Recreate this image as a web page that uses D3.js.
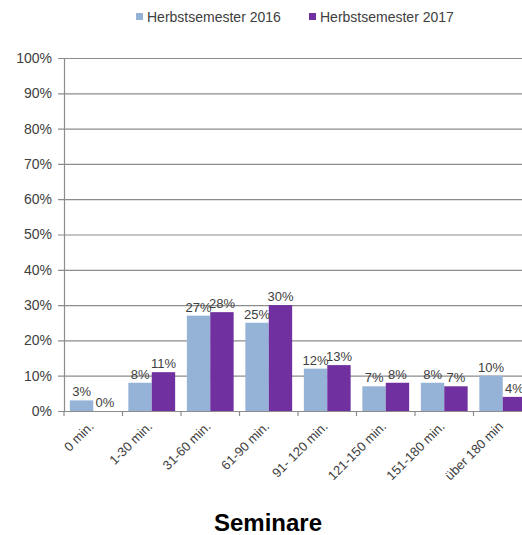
<!DOCTYPE html>
<html>
<head>
<meta charset="utf-8">
<script src="https://cdn.jsdelivr.net/npm/d3@7"></script>
<style>
  html, body { margin: 0; padding: 0; background: #fff; }
  svg { display: block; font-family: "Liberation Sans", Arial, sans-serif; }
</style>
</head>
<body>
<svg id="chart" width="522" height="535"></svg>
<script>
// Dauer pro Seminar, Anteil der Antworten in Prozent
const categories = ["0 min.", "1-30 min.", "31-60 min.", "61-90 min.", "91- 120 min.", "121-150 min.", "151-180 min.", "über 180 min"];
const seriesNames = ["Herbstsemester 2016", "Herbstsemester 2017"];
const values2016 = [3, 8, 27, 25, 12, 7, 8, 10];
const values2017 = [0, 11, 28, 30, 13, 8, 7, 4];
const yTicks = [0, 10, 20, 30, 40, 50, 60, 70, 80, 90, 100];
const colors = ["#95b3d7", "#7030a0"];
const title = "Seminare";

const svg = d3.select("#chart");
const plotLeft = 64, plotRight = 532, plotTop = 58, plotBottom = 411;
const textColor = "#404040";

const x = d3.scaleBand().domain(categories).range([plotLeft, plotRight]).paddingInner(0.2).paddingOuter(0.1);
const xs = d3.scaleBand().domain(seriesNames).range([0, x.bandwidth()]);
const y = d3.scaleLinear().domain([0, 100]).range([plotBottom, plotTop]);
const edge = d3.scaleLinear().domain([0, categories.length]).range([plotLeft, plotRight]);

// Gitterlinien
svg.append("g").selectAll("line").data(yTicks).join("line")
  .attr("x1", plotLeft - 6).attr("x2", 522)
  .attr("y1", d => y(d) + 0.5).attr("y2", d => y(d) + 0.5)
  .attr("stroke", "#8c8c8c").attr("stroke-width", 1.2);

// Y-Achse
const yAxis = d3.axisLeft(y).tickValues(yTicks).tickFormat(d => d + "%").tickSize(0).tickPadding(12);
const gy = svg.append("g").attr("transform", `translate(${plotLeft},0)`).call(yAxis);
gy.select(".domain").attr("stroke", "#8c8c8c").attr("stroke-width", 1.2);
gy.selectAll("text").attr("font-size", 14).attr("fill", textColor)
  .attr("font-family", "Liberation Sans, Arial, sans-serif");

// Trennstriche zwischen den Kategorien
svg.append("g").selectAll("line").data(d3.range(categories.length + 1)).join("line")
  .attr("x1", d => edge(d)).attr("x2", d => edge(d))
  .attr("y1", plotBottom).attr("y2", plotBottom + 5)
  .attr("stroke", "#8c8c8c").attr("stroke-width", 1.2);

// Balken
const rows = categories.map((c, i) => ({ cat: c, vals: [values2016[i], values2017[i]] }));
const groups = svg.append("g").selectAll("g").data(rows).join("g")
  .attr("transform", d => `translate(${x(d.cat)},0)`);

groups.selectAll("rect").data(d => d.vals.map((v, k) => ({ v, k }))).join("rect")
  .attr("x", d => xs(seriesNames[d.k]))
  .attr("width", xs.bandwidth())
  .attr("y", d => y(d.v))
  .attr("height", d => y(0) - y(d.v))
  .attr("fill", d => colors[d.k]);

groups.selectAll("text").data(d => d.vals.map((v, k) => ({ v, k }))).join("text")
  .attr("x", d => xs(seriesNames[d.k]) + xs.bandwidth() / 2)
  .attr("y", d => y(d.v) - 4)
  .attr("text-anchor", "middle")
  .attr("font-size", 13).attr("fill", textColor)
  .text(d => d.v + "%");

// Kategorienbeschriftung, gedreht
svg.append("g").selectAll("text").data(categories).join("text")
  .attr("transform", d => `translate(${x(d) + x.bandwidth() / 2 - 2},${plotBottom + 13}) rotate(-45)`)
  .attr("text-anchor", "end")
  .attr("dy", "0.35em")
  .attr("font-size", 13).attr("fill", textColor)
  .text(d => d);

// Legende
const legend = svg.append("g");
const legendX = [136, 309];
seriesNames.forEach((name, k) => {
  legend.append("rect").attr("x", legendX[k]).attr("y", 13).attr("width", 7).attr("height", 7).attr("fill", colors[k]);
  legend.append("text").attr("x", legendX[k] + 11).attr("y", 22)
    .attr("font-size", 14).attr("fill", textColor).text(name);
});

// Titel
svg.append("text").attr("x", 268).attr("y", 531)
  .attr("text-anchor", "middle").attr("font-size", 24).attr("font-weight", "bold")
  .attr("fill", "#000").text(title);
</script>
</body>
</html>
